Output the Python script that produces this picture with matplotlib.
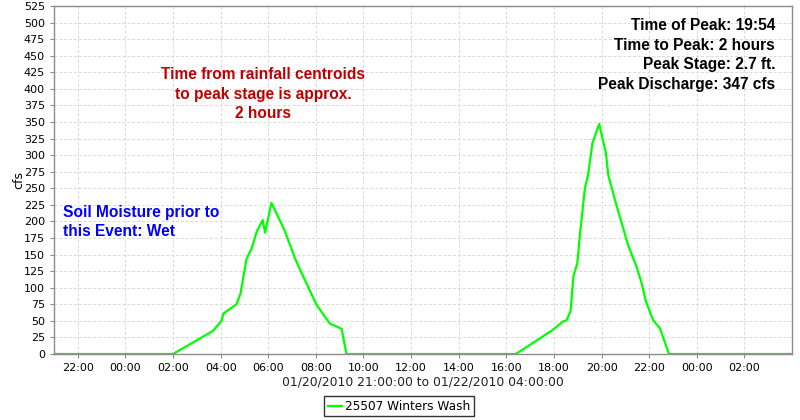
import matplotlib
matplotlib.use("Agg")
import matplotlib.pyplot as plt
import matplotlib.dates as mdates
import pandas as pd

# flow readings for the station (cfs)
times = [
    "2010-01-20 21:00", "2010-01-21 02:00", "2010-01-21 03:41", "2010-01-21 04:02",
    "2010-01-21 04:07", "2010-01-21 04:40", "2010-01-21 04:50", "2010-01-21 05:05",
    "2010-01-21 05:18", "2010-01-21 05:31", "2010-01-21 05:46", "2010-01-21 05:52",
    "2010-01-21 06:08", "2010-01-21 06:40", "2010-01-21 07:09", "2010-01-21 07:32",
    "2010-01-21 08:02", "2010-01-21 08:35", "2010-01-21 09:05", "2010-01-21 09:17",
    "2010-01-21 16:24", "2010-01-21 17:54", "2010-01-21 18:23", "2010-01-21 18:32",
    "2010-01-21 18:42", "2010-01-21 18:49", "2010-01-21 18:59", "2010-01-21 19:05",
    "2010-01-21 19:18", "2010-01-21 19:26", "2010-01-21 19:37", "2010-01-21 19:54",
    "2010-01-21 20:11", "2010-01-21 20:17", "2010-01-21 20:34", "2010-01-21 21:07",
    "2010-01-21 21:28", "2010-01-21 21:41", "2010-01-21 21:52", "2010-01-21 22:10",
    "2010-01-21 22:27", "2010-01-21 22:50", "2010-01-22 04:00",
]
flow = [
    0, 0, 35, 50,
    61, 75, 91, 143,
    159, 185, 202, 183,
    228, 188, 142, 112,
    74, 46, 38, 0,
    0, 35, 49, 51,
    65, 117, 137, 177,
    250, 270, 318, 347,
    303, 270, 232, 164,
    132, 107, 79, 51,
    39, 0, 0,
]
series_name = "25507 Winters Wash"
x_start, x_end = "2010-01-20 21:00", "2010-01-22 04:00"
first_tick, last_tick = "2010-01-20 22:00", "2010-01-22 02:00"

red_note = "Time from rainfall centroids\nto peak stage is approx.\n2 hours"
blue_note = "Soil Moisture prior to\nthis Event: Wet"
peak_note = ("Time of Peak: 19:54\nTime to Peak: 2 hours\n"
             "Peak Stage: 2.7 ft.\nPeak Discharge: 347 cfs")

t = pd.to_datetime(times)

fig = plt.figure(figsize=(8, 4.2), dpi=100)
ax = fig.add_axes([54 / 800, 66 / 420, 738 / 800, 348 / 420])

ax.plot(t, flow, color="#00ff00", lw=1.6, label=series_name)

ax.set_xlim(pd.Timestamp(x_start), pd.Timestamp(x_end))
ax.set_ylim(0, 525)
ax.set_yticks(range(0, 526, 25))
ax.set_xticks(pd.date_range(first_tick, last_tick, freq="2h"))
ax.xaxis.set_major_formatter(mdates.DateFormatter("%H:%M"))

ax.grid(True, color="#d9d9d9", linestyle=(0, (3, 2)), lw=0.7)
ax.set_axisbelow(True)
for s in ax.spines.values():
    s.set_color("#8c8c8c")
    s.set_linewidth(1)
ax.tick_params(axis="both", colors="#8c8c8c", labelcolor="black", labelsize=8, length=3)

ax.set_ylabel("cfs", fontsize=9, labelpad=-1)
ax.set_xlabel(f"{pd.Timestamp(x_start):%m/%d/%Y %H:%M:%S} to {pd.Timestamp(x_end):%m/%d/%Y %H:%M:%S}",
              fontsize=8.9, labelpad=2, color="#222222")

bold = dict(family="Liberation Sans", fontweight="bold", fontsize=11.2, linespacing=1.38)
ax.text(0.283, 0.747, red_note, transform=ax.transAxes, ha="center", va="center",
        multialignment="center", color="#c00000", **bold)
ax.text(0.012, 0.379, blue_note, transform=ax.transAxes, ha="left", va="center",
        color="#0000ff", **bold)
ax.text(0.977, 0.859, peak_note, transform=ax.transAxes, ha="right", va="center",
        multialignment="right", color="black", **bold)

leg = fig.legend(loc="lower center", bbox_to_anchor=(0.4985, 0.0), fontsize=8.7,
                 frameon=True, fancybox=False, edgecolor="black", handlelength=1.2,
                 handletextpad=0.2, borderpad=0.3, borderaxespad=0.3)
leg.get_frame().set_linewidth(1)

fig.savefig("out.png", dpi=100)
